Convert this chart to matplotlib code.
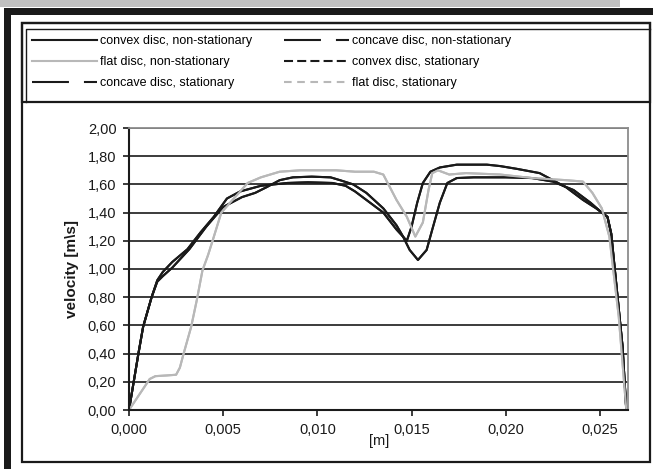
import numpy as np
import matplotlib.pyplot as plt
from matplotlib.lines import Line2D
from matplotlib.patches import Rectangle
from matplotlib.ticker import FuncFormatter, MultipleLocator

plt.rcParams['font.family'] = ['Liberation Sans', 'DejaVu Sans']
plt.rcParams['lines.scale_dashes'] = False

# distance along the disc [m] and velocity [m/s]
convex_x = [0, 0.0002, 0.0005, 0.00075, 0.0012, 0.0015, 0.0018, 0.0023, 0.0031,
            0.0038, 0.0045, 0.0052, 0.0059, 0.0070, 0.0084, 0.0095, 0.0108,
            0.0115, 0.0120, 0.0126, 0.0135, 0.0142, 0.01475, 0.0150, 0.0153,
            0.0156, 0.0160, 0.0165, 0.0174, 0.0190, 0.0197, 0.0206, 0.0218,
            0.0232, 0.0241, 0.0248, 0.0251, 0.0254, 0.0256, 0.0259, 0.0262, 0.0264]
convex_v = [0, 0.16, 0.40, 0.59, 0.80, 0.92, 0.98, 1.05, 1.14,
            1.26, 1.37, 1.50, 1.55, 1.59, 1.61, 1.615, 1.61,
            1.59, 1.55, 1.49, 1.40, 1.28, 1.20, 1.30, 1.47,
            1.61, 1.69, 1.72, 1.74, 1.74, 1.73, 1.71, 1.68,
            1.58, 1.49, 1.43, 1.40, 1.37, 1.25, 0.85, 0.45, 0.0]

concave_x = [0, 0.0002, 0.0005, 0.00075, 0.0012, 0.0015, 0.0018, 0.0023, 0.0032,
             0.0041, 0.0050, 0.0060, 0.0067, 0.0073, 0.0080, 0.0087, 0.0097,
             0.0107, 0.0112, 0.0119, 0.0126, 0.0135, 0.0142, 0.01455, 0.0149,
             0.01534, 0.0158, 0.0161, 0.0165, 0.0169, 0.0174, 0.0183, 0.0200,
             0.0214, 0.0225, 0.0236, 0.0245, 0.0251, 0.0254, 0.0256, 0.0259,
             0.0262, 0.0264]
concave_v = [0, 0.16, 0.40, 0.59, 0.80, 0.91, 0.95, 1.01, 1.14,
             1.30, 1.44, 1.51, 1.54, 1.58, 1.63, 1.65, 1.655,
             1.65, 1.63, 1.60, 1.54, 1.43, 1.31, 1.23, 1.135,
             1.064, 1.135, 1.28, 1.47, 1.61, 1.645, 1.65, 1.65,
             1.645, 1.62, 1.56, 1.47, 1.40, 1.37, 1.25, 0.85,
             0.45, 0.0]

flat_x = [0, 0.0006, 0.0011, 0.0014, 0.0020, 0.0025, 0.0027, 0.0029, 0.0033,
          0.0036, 0.0039, 0.0042, 0.00446, 0.0049, 0.0055, 0.0063, 0.0070,
          0.0080, 0.0091, 0.0110, 0.0120, 0.0130, 0.0135, 0.01385, 0.0142,
          0.01475, 0.0152, 0.0156, 0.0159, 0.0161, 0.0164, 0.0170, 0.0179,
          0.0197, 0.0214, 0.0232, 0.0241, 0.0246, 0.0251, 0.0255, 0.0260, 0.0264]
flat_v = [0, 0.12, 0.22, 0.24, 0.245, 0.25, 0.30, 0.40, 0.59,
          0.78, 0.99, 1.10, 1.21, 1.40, 1.49, 1.61, 1.65,
          1.69, 1.70, 1.70, 1.69, 1.69, 1.67, 1.58, 1.49,
          1.37, 1.23, 1.33, 1.56, 1.68, 1.70, 1.67, 1.68,
          1.67, 1.645, 1.63, 1.62, 1.54, 1.43, 1.23, 0.66, 0.0]

# stationary runs lie on top of the non-stationary ones
convex_st_x, convex_st_v = convex_x, convex_v
concave_st_x, concave_st_v = concave_x, concave_v
flat_st_x, flat_st_v = flat_x, flat_v

x_ticks_step = 0.005
y_ticks_step = 0.2

W, H = 653, 469
fig = plt.figure(figsize=(W / 100, H / 100), dpi=100)


def fx(x):
    return x / W


def fy(y):
    return 1 - y / H


# outer decoration: grey strip and heavy black corner frame
fig.add_artist(Rectangle((0, fy(7)), fx(620), 7 / H, color='#c0c0c0', lw=0))
fig.add_artist(Rectangle((fx(4), fy(15)), fx(649), 7 / H, color='#1a1a1a', lw=0))
fig.add_artist(Rectangle((fx(4), 0), fx(7), fy(8), color='#1a1a1a', lw=0))

# chart box and legend box
fig.add_artist(Rectangle((fx(22), fy(462)), fx(628), (462 - 23) / H,
                         fill=False, ec='#1a1a1a', lw=1.6))
fig.add_artist(Rectangle((fx(22), fy(102)), fx(628), (102 - 23) / H,
                         fill=False, ec='#1a1a1a', lw=1.6))
fig.add_artist(Line2D([fx(26), fx(26), fx(650)], [fy(102), fy(29.5), fy(29.5)],
                      color='#1a1a1a', lw=1.0))

ax = fig.add_axes([fx(129), fy(410), fx(499), 282 / H])

black = '#1a1a1a'
grey = '#b8b8b8'
lw = 1.5
long_dash = (0, (26.6, 10.8))
short_dash = (0, (6.5, 3.0))
grey_dash = (0, (5.5, 4.0))

# dense runs: dash patterns restart on every short segment, so the curves
# read as continuous; the legend keys carry the dash styles
ax.plot(convex_x, convex_v, color=black, lw=lw)
ax.plot(concave_x, concave_v, color=black, lw=lw)
ax.plot(flat_x, flat_v, color=grey, lw=lw)
ax.plot(convex_st_x, convex_st_v, color=black, lw=lw)
ax.plot(concave_st_x, concave_st_v, color=black, lw=lw)
ax.plot(flat_st_x, flat_st_v, color=grey, lw=lw)

ax.set_xlim(0, 0.02649)
ax.set_ylim(0, 2.0)
ax.xaxis.set_major_locator(MultipleLocator(x_ticks_step))
ax.yaxis.set_major_locator(MultipleLocator(y_ticks_step))
ax.xaxis.set_major_formatter(FuncFormatter(lambda v, _: f'{v:.3f}'.replace('.', ',')))
ax.yaxis.set_major_formatter(FuncFormatter(lambda v, _: f'{v:.2f}'.replace('.', ',')))
ax.tick_params(direction='out', length=4, width=1.2, labelsize=10.5, pad=5,
               colors=black)

ax.yaxis.grid(True, color=black, lw=1.2)
ax.set_axisbelow(True)
for side in ('left', 'bottom'):
    ax.spines[side].set_color(black)
    ax.spines[side].set_linewidth(1.5)
for side in ('top', 'right'):
    ax.spines[side].set_color('#8c8c8c')
    ax.spines[side].set_linewidth(1.3)

fig.text(fx(72), fy(269), 'velocity [m\\s]', rotation=90, ha='center', va='center',
         fontsize=11, fontweight='bold', color=black)
fig.text(fx(379), fy(441), '[m]', ha='center', va='center', fontsize=10.5,
         color=black)

keys = [
    Line2D([], [], color=black, lw=lw, ls='-', label='convex disc, non-stationary'),
    Line2D([], [], color=grey, lw=lw, ls='-', label='flat disc, non-stationary'),
    Line2D([], [], color=black, lw=lw, ls=long_dash, label='concave disc, stationary'),
    Line2D([], [], color=black, lw=lw, ls=long_dash, label='concave disc, non-stationary'),
    Line2D([], [], color=black, lw=lw, ls=short_dash, label='convex disc, stationary'),
    Line2D([], [], color=grey, lw=lw, ls=grey_dash, label='flat disc, stationary'),
]
fig.legend(handles=keys, ncol=2, loc='upper left', bbox_to_anchor=(fx(32), fy(35)),
           frameon=False, borderpad=0, borderaxespad=0, fontsize=9,
           handlelength=5.2, handletextpad=0.25, columnspacing=2.5,
           labelspacing=0.72)

fig.savefig('out.png', dpi=100)
